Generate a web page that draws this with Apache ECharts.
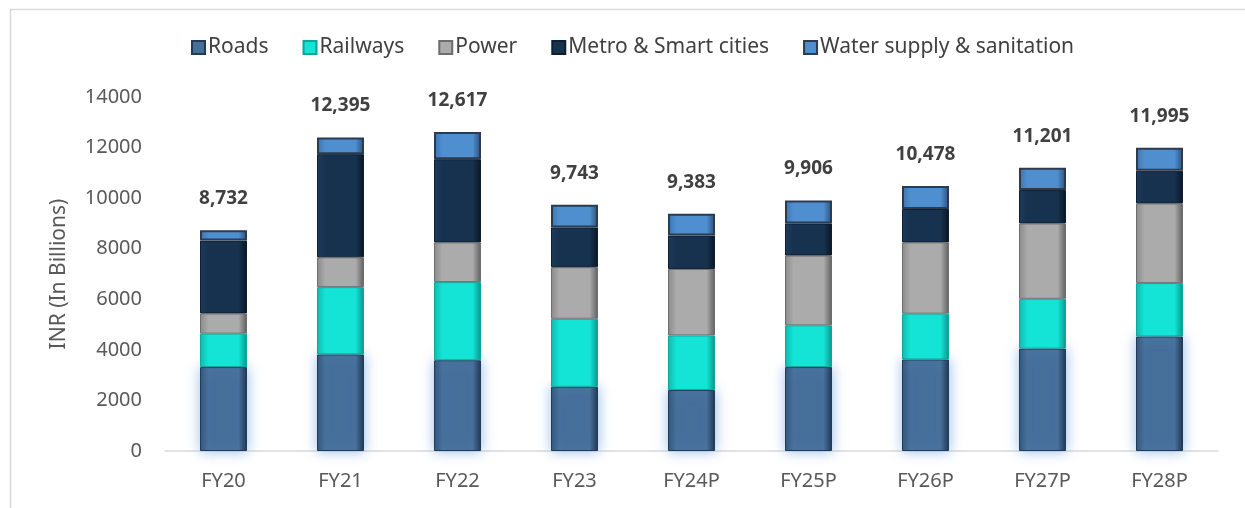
<!DOCTYPE html>
<html>
<head>
<meta charset="utf-8">
<script src="https://cdn.jsdelivr.net/npm/echarts@6/dist/echarts.min.js"></script>
<style>
  html, body { margin: 0; padding: 0; background: #fff; }
  #main { width: 1245px; height: 508px; }
</style>
</head>
<body>
<div id="main"></div>
<script>
// values (INR billions)
var years = ["FY20", "FY21", "FY22", "FY23", "FY24P", "FY25P", "FY26P", "FY27P", "FY28P"];
var roads   = [3320, 3820, 3590, 2540, 2410, 3320, 3620, 4050, 4530];
var railways = [1320, 2660, 3090, 2690, 2160, 1650, 1810, 1970, 2110];
var power   = [800, 1180, 1570, 2040, 2630, 2760, 2820, 2980, 3150];
var metro   = [2880, 4080, 3290, 1570, 1320, 1270, 1320, 1320, 1290];
var water   = [412, 655, 1077, 903, 863, 906, 908, 881, 915];
var totals  = [8732, 12395, 12617, 9743, 9383, 9906, 10478, 11201, 11995];

var FONT = "'Noto Sans', sans-serif";

// bevel-ish look: darker at the edges, lighter in the middle
function bevel(edgeL, mid, edgeR) {
  return new echarts.graphic.LinearGradient(0, 0, 1, 0, [
    { offset: 0, color: edgeL },
    { offset: 0.18, color: mid },
    { offset: 0.82, color: mid },
    { offset: 1, color: edgeR }
  ]);
}

var myChart = echarts.init(document.getElementById("main"));

function barSeries(name, data, style) {
  return {
    name: name,
    type: "bar",
    stack: "total",
    barWidth: 47,
    data: data,
    itemStyle: style
  };
}

var series = [
  barSeries("Roads", roads, {
    color: bevel("#2f5277", "#46709a", "#1b3049"),
    borderColor: "#223c58",
    borderWidth: 1,
    shadowColor: "rgba(120,170,225,0.75)",
    shadowBlur: 12
  }),
  barSeries("Railways", railways, {
    color: bevel("#0fb9ae", "#14e4d6", "#0c948b"),
    borderColor: "#10a59b",
    borderWidth: 1
  }),
  barSeries("Power", power, {
    color: bevel("#8a8a8a", "#ababab", "#5f5f5f"),
    borderColor: "#6e6e6e",
    borderWidth: 1
  }),
  barSeries("Metro & Smart cities", metro, {
    color: bevel("#1d3a5a", "#17324f", "#0a1624"),
    borderColor: "#0e1f33",
    borderWidth: 1
  }),
  barSeries("Water supply & sanitation", water, {
    color: bevel("#3d74ad", "#4f8fd0", "#2a4f78"),
    borderColor: "#2c3b4e",
    borderWidth: 2
  })
];

series[4].label = {
  show: true,
  position: "top",
  distance: 22,
  fontFamily: FONT,
  fontSize: 19,
  fontWeight: "bold",
  color: "#404040",
  formatter: function (p) {
    return totals[p.dataIndex].toLocaleString("en-US");
  }
};

myChart.setOption({
  animation: false,
  textStyle: { fontFamily: FONT },
  graphic: [{
    type: "rect",
    left: 8, top: 7,
    shape: { width: 1400, height: 700 },
    style: { fill: "none", stroke: "#d9d9d9", lineWidth: 1.5 },
    silent: true
  }],
  legend: {
    top: 32,
    left: 186,
    itemWidth: 13,
    itemHeight: 13,
    itemGap: 34,
    icon: "rect",
    textStyle: { fontFamily: FONT, fontSize: 21, color: "#404040", padding: [0, 0, 0, -2] },
    data: series.map(function (s) { return s.name; })
  },
  grid: { left: 165, right: 27, top: 97, bottom: 57 },
  xAxis: {
    type: "category",
    data: years,
    axisLine: { lineStyle: { color: "#d9d9d9", width: 1.5 } },
    axisTick: { show: false },
    axisLabel: { fontFamily: FONT, fontSize: 20, color: "#595959", margin: 20 }
  },
  yAxis: {
    type: "value",
    min: 0,
    max: 14000,
    interval: 2000,
    name: "INR (In Billions)",
    nameLocation: "middle",
    nameRotate: 90,
    nameGap: 95,
    nameTextStyle: { fontFamily: FONT, fontSize: 21, color: "#595959" },
    axisLine: { show: false },
    axisTick: { show: false },
    splitLine: { show: false },
    axisLabel: {
      fontFamily: FONT, fontSize: 20, color: "#595959", margin: 23,
      formatter: function (v) { return String(v); }
    }
  },
  series: series
});
</script>
</body>
</html>
